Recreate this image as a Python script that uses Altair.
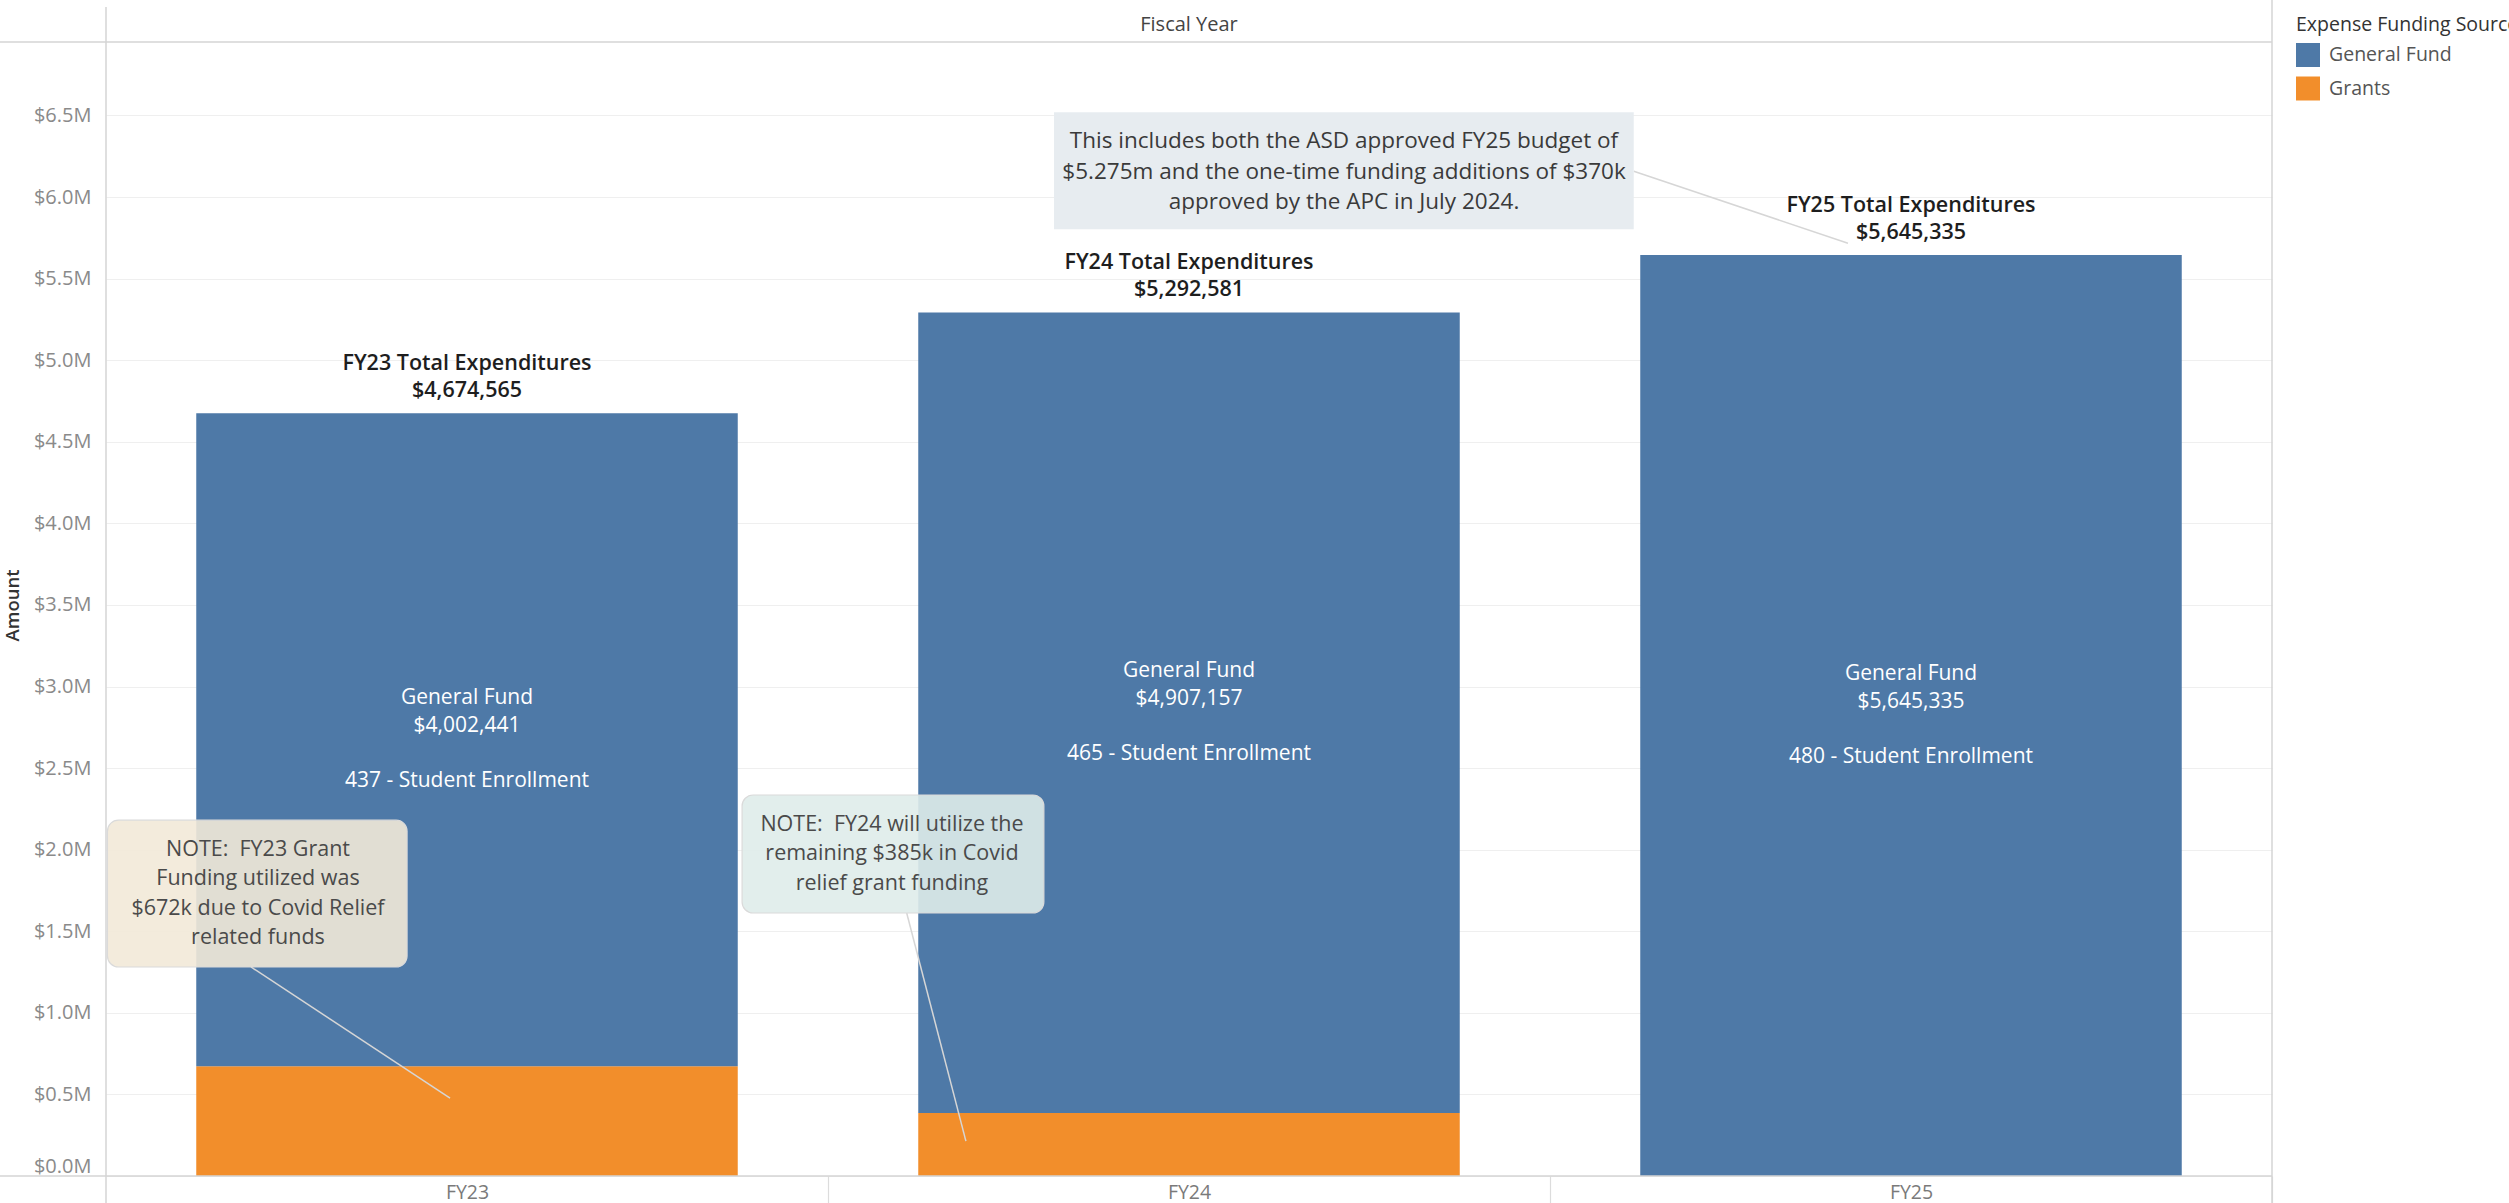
import altair as alt
import pandas as pd

# ---------------- data ----------------
years = ["FY23", "FY24", "FY25"]
general_fund = [4002441, 4907157, 5645335]
grants = [672124, 385424, 0]
enrollment = [437, 465, 480]
sources = ["General Fund", "Grants"]
source_colors = ["#4e79a7", "#f28e2b"]
y_tick_values = [0, 500000, 1000000, 1500000, 2000000, 2500000, 3000000,
                 3500000, 4000000, 4500000, 5000000, 5500000, 6000000, 6500000]
y_max = 6950000

NB = "\u00a0"
note_texts = [
    f"NOTE:{NB} FY23 Grant\nFunding utilized was\n$672k due to Covid Relief\nrelated funds",
    f"NOTE:{NB} FY24 will utilize the\nremaining $385k in Covid\nrelief grant funding",
    "This includes both the ASD approved FY25 budget of\n$5.275m and the one-time funding additions of $370k\napproved by the APC in July 2024.",
]
# annotation placement: x in category units (0..3), y in dollars (text y = first line)
note_box_x1 = [0.002, 0.881, 1.313]
note_box_x2 = [0.417, 1.299, 2.116]
note_box_y1 = [1281000, 1612000, 5803000]
note_box_y2 = [2181000, 2335000, 6520000]
note_text_x = [0.2105, 1.0886, 1.7147]
note_text_y = [1997000, 2151000, 6342000]
note_line_x1 = [0.2008, 1.109, 2.116]
note_line_y1 = [1281000, 1612000, 6158000]
note_line_x2 = [0.4765, 1.191, 2.4127]
note_line_y2 = [478000, 214000, 5717000]
note_fill = ["#f2e9d8", "#dfecea", "#e7ecf0"]
note_opacity = [0.9, 0.9, 1.0]
note_kind = ["rounded", "rounded", "plain"]

# ---------------- tables ----------------
seg_rows, gf_rows, tot_rows = [], [], []
for i, fy in enumerate(years):
    g, gf = grants[i], general_fund[i]
    if g > 0:
        seg_rows.append(dict(year=fy, source="Grants", start=0, end=g))
    seg_rows.append(dict(year=fy, source="General Fund", start=g, end=g + gf))
    gf_rows.append(dict(year=fy, mid=g + gf / 2,
                        label=f"General Fund\n${gf:,}",
                        enroll=f"{enrollment[i]} - Student Enrollment"))
    tot_rows.append(dict(year=fy, total=g + gf,
                         label=f"{fy} Total Expenditures\n${g + gf:,}"))
seg = pd.DataFrame(seg_rows)
gf_df = pd.DataFrame(gf_rows)
tot_df = pd.DataFrame(tot_rows)
notes = pd.DataFrame(dict(text=note_texts, bx1=note_box_x1, bx2=note_box_x2,
                          by1=note_box_y1, by2=note_box_y2, tx=note_text_x, ty=note_text_y,
                          lx1=note_line_x1, ly1=note_line_y1, lx2=note_line_x2, ly2=note_line_y2,
                          fill=note_fill, op=note_opacity, kind=note_kind))

W, H = 2166, 1134
STEP = W / 3
FONT = "Open Sans"

y_scale = alt.Scale(domain=[0, y_max], nice=False, zero=True)
y_axis = alt.Axis(values=y_tick_values,
                  labelExpr="'$' + format(datum.value / 1000000, '.1f') + 'M'",
                  labelFlush=True, ticks=False, domain=False,
                  gridColor="#efefef", gridWidth=1.2,
                  labelColor="#8a8a8a", labelFontSize=20, labelPadding=15,
                  title="Amount", titleX=-84, titleY=H / 2 - 4, titleAngle=-90,
                  titleFontSize=18.5, titleFontWeight=600, titleColor="#333333")
x_band = alt.X("year:N", sort=years, title=None,
               scale=alt.Scale(paddingInner=0.25, paddingOuter=0.125),
               axis=alt.Axis(labelAngle=0, labelFontSize=19.5, labelColor="#7a7a7a",
                             domain=False, ticks=True, tickOffset=STEP / 2, labelOffset=-STEP / 2,
                             tickSize=27, tickColor="#dcdcdc", tickWidth=1.2,
                             labelPadding=-20, grid=False))
legend = alt.Legend(orient="none", legendX=2190, legendY=-26, padding=0,
                    title="Expense Funding Source", titleFontSize=19.5, titleFontWeight="normal",
                    titleColor="#333333", titleLimit=400, titlePadding=7.5,
                    labelFontSize=19.5, labelColor="#555555", labelOffset=9,
                    symbolType="square", symbolSize=576, symbolStrokeWidth=0,
                    symbolOpacity=1, rowPadding=9.5)

bars = alt.Chart(seg).mark_bar().encode(
    x=x_band,
    y=alt.Y("start:Q", scale=y_scale, axis=y_axis),
    y2="end:Q",
    color=alt.Color("source:N", scale=alt.Scale(domain=sources, range=source_colors), legend=legend),
)

inner_top = alt.Chart(gf_df).mark_text(color="#ffffff", fontSize=21, lineBreak="\n", lineHeight=27.7,
                                       baseline="middle", align="center", dy=-41.5).encode(
    x=alt.X("year:N", sort=years, axis=None),
    y=alt.Y("mid:Q", scale=y_scale),
    text="label:N",
)
inner_bottom = alt.Chart(gf_df).mark_text(color="#ffffff", fontSize=21,
                                          baseline="middle", align="center", dy=41.5).encode(
    x=alt.X("year:N", sort=years, axis=None),
    y=alt.Y("mid:Q", scale=y_scale),
    text="enroll:N",
)

totals = alt.Chart(tot_df).mark_text(color="#1e1e1e", fontSize=21.5, fontWeight=600, lineBreak="\n",
                                     lineHeight=27, baseline="middle", align="center", dy=-49).encode(
    x=alt.X("year:N", sort=years, axis=None),
    y=alt.Y("total:Q", scale=y_scale),
    text="label:N",
)

ax = alt.Scale(domain=[0, 3], nice=False, zero=False)

lines = alt.Chart(notes).mark_rule(color="#d6d6d6", strokeWidth=1.5).encode(
    x=alt.X("lx1:Q", scale=ax, axis=None), x2="lx2:Q",
    y=alt.Y("ly1:Q", scale=y_scale), y2="ly2:Q",
)
box_round = alt.Chart(notes).transform_filter("datum.kind == 'rounded'").mark_rect(
    cornerRadius=11, stroke="#dadada", strokeWidth=1.2).encode(
    x=alt.X("bx1:Q", scale=ax, axis=None), x2="bx2:Q",
    y=alt.Y("by1:Q", scale=y_scale), y2="by2:Q",
    fill=alt.Fill("fill:N", scale=None),
    fillOpacity=alt.FillOpacity("op:Q", scale=None),
)
box_plain = alt.Chart(notes).transform_filter("datum.kind == 'plain'").mark_rect().encode(
    x=alt.X("bx1:Q", scale=ax, axis=None), x2="bx2:Q",
    y=alt.Y("by1:Q", scale=y_scale), y2="by2:Q",
    fill=alt.Fill("fill:N", scale=None),
    fillOpacity=alt.FillOpacity("op:Q", scale=None),
)
note_text_round = alt.Chart(notes).transform_filter("datum.kind == 'rounded'").mark_text(
    color="#4a4a4a", fontSize=21.5, lineBreak="\n", lineHeight=29.3, baseline="middle", align="center").encode(
    x=alt.X("tx:Q", scale=ax, axis=None), y=alt.Y("ty:Q", scale=y_scale), text="text:N",
)
note_text_plain = alt.Chart(notes).transform_filter("datum.kind == 'plain'").mark_text(
    color="#3a3a3a", fontSize=22.5, lineBreak="\n", lineHeight=30.5, baseline="middle", align="center").encode(
    x=alt.X("tx:Q", scale=ax, axis=None), y=alt.Y("ty:Q", scale=y_scale), text="text:N",
)

# header text and Tableau-style frame lines
one = pd.DataFrame({"a": [0]})
header = alt.Chart(one).mark_text(text="Fiscal Year", fontSize=20, color="#444444",
                                  baseline="middle", align="center").encode(
    x=alt.value(W / 2), y=alt.value(-17))
frame_specs = [(-106, W, 0, 0), (-106, W, H, H), (0, 0, -35, H + 27), (W, W, -42, H + 27)]
frames = [alt.Chart(one).mark_rule(color="#d4d4d4", strokeWidth=1.5).encode(
    x=alt.value(a), x2=alt.value(b), y=alt.value(c), y2=alt.value(d)) for a, b, c, d in frame_specs]

chart = alt.layer(
    bars, inner_top, inner_bottom, totals, lines, box_round, box_plain,
    note_text_round, note_text_plain, header, *frames
).resolve_scale(x="independent").properties(
    width=W, height=H,
    padding={"left": 106, "top": 42, "right": 237, "bottom": 27},
    autosize=alt.AutoSizeParams(type="none"),
    background="white",
).configure(font=FONT).configure_view(stroke=None)

chart.save("out.html", embed_options={"renderer": "svg", "actions": False})
